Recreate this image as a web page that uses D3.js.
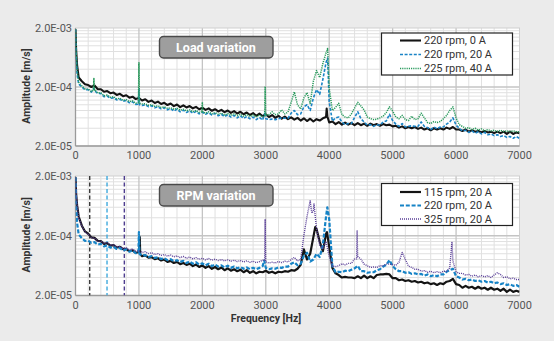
<!DOCTYPE html>
<html>
<head>
<meta charset="utf-8">
<script src="https://cdn.jsdelivr.net/npm/d3@7"></script>
<style>
  html, body { margin: 0; padding: 0; background: #ebebeb; }
  svg { display: block; font-family: Roboto, "Liberation Sans", sans-serif; }
</style>
</head>
<body>
<svg id="chart" width="554" height="341"></svg>
<script>
// Spectrum bins are spaced FREQ_STEP Hz apart, starting at 0 Hz.
// Amplitudes are given in µm/s and converted to m/s for the log axis.
const FREQ_STEP = 50;
const xTicks = [0, 1000, 2000, 3000, 4000, 5000, 6000, 7000];
const yTicks = [2e-5, 2e-4, 2e-3];

// ---- Load variation ----
const loadLabels = ["220 rpm, 0 A", "220 rpm, 20 A", "225 rpm, 40 A"];
const load220_0A = [
  1900, 290, 250, 222, 216, 200, 212, 184, 183, 166,
  171, 157, 161, 147, 153, 140, 145, 132, 137, 125,
  130, 118, 124, 112, 118, 107, 113, 103, 108, 99,
  105, 95, 101, 91, 98, 90, 95, 87, 92, 84,
  89, 82, 87, 79, 84, 77, 82, 75, 80, 73,
  78, 71, 76, 69, 74, 67, 72, 65, 71, 64,
  69, 62, 67, 60, 65, 58, 63, 57, 61, 56,
  60, 54, 59, 53, 58, 52, 57, 54, 59, 62,
  50, 52, 47, 51, 46, 50, 46, 49, 45, 49,
  45, 48, 44, 48, 45, 47, 44, 47, 45, 46,
  43, 44, 41, 43, 40, 42, 40, 42, 39, 41,
  38, 40, 37, 40, 38, 40, 38, 41, 39, 42,
  38, 38, 36, 38, 35, 37, 35, 36, 34, 36,
  34, 35, 33, 35, 33, 35, 32, 35, 32, 34,
  33
];
const load220_0A_detail = [[10, 850], [25, 470], [3960, 86], [3970, 64]];

const load220_20A = [
  1900, 225, 200, 181, 180, 164, 174, 155, 155, 137,
  140, 129, 131, 121, 124, 115, 118, 108, 112, 101,
  101, 97, 100, 93, 96, 89, 92, 85, 89, 82,
  86, 78, 84, 76, 81, 74, 79, 72, 77, 70,
  75, 69, 73, 67, 71, 65, 69, 63, 68, 62,
  66, 60, 65, 59, 63, 58, 62, 56, 61, 55,
  58, 56, 57, 56, 58, 60, 59, 59, 72, 80,
  68, 70, 92, 100, 80, 130, 180, 150, 270, 520,
  110, 53, 60, 62, 51, 46, 48, 48, 61, 76,
  58, 51, 45, 46, 43, 46, 45, 51, 53, 69,
  54, 47, 43, 48, 42, 43, 44, 43, 43, 51,
  43, 41, 38, 42, 39, 42, 42, 47, 51, 60,
  45, 40, 36, 37, 34, 36, 33, 35, 32, 34,
  31, 32, 30, 31, 29, 30, 28, 29, 27, 29,
  27
];
const load220_20A_detail = [[10, 700], [25, 330], [290, 190], [992, 102], [1000, 185], [1008, 100],
  [2990, 75], [3975, 620]];

const load225_40A = [
  1900, 240, 210, 186, 184, 168, 181, 159, 160, 142,
  146, 134, 137, 126, 129, 119, 122, 113, 116, 106,
  108, 103, 104, 98, 100, 94, 96, 90, 92, 87,
  89, 84, 87, 81, 84, 79, 82, 76, 80, 74,
  78, 72, 76, 70, 74, 69, 72, 67, 71, 66,
  70, 65, 69, 64, 68, 63, 67, 62, 67, 63,
  66, 68, 76, 68, 70, 82, 70, 75, 110, 165,
  100, 85, 130, 160, 105, 250, 380, 290, 500, 760,
  190, 80, 90, 106, 68, 62, 60, 70, 88, 110,
  95, 82, 62, 58, 56, 57, 60, 64, 74, 92,
  78, 62, 58, 66, 56, 54, 64, 56, 58, 72,
  60, 50, 48, 52, 50, 52, 58, 66, 80, 92,
  60, 46, 43, 40, 41, 38, 40, 37, 39, 36,
  38, 36, 37, 35, 37, 35, 36, 35, 36, 35,
  35
];
const load225_40A_detail = [[10, 800], [25, 400], [282, 176], [290, 280], [298, 178],
  [992, 108], [1000, 516], [1008, 106], [1992, 76], [2000, 111], [2008, 75],
  [2982, 65], [2990, 204], [2998, 66], [3975, 900]];

// ---- RPM variation ----
const rpmLabels = ["115 rpm, 20 A", "220 rpm, 20 A", "325 rpm, 20 A"];
const rpm115 = [
  1900, 420, 295, 236, 216, 188, 184, 164, 163, 146,
  151, 137, 139, 127, 130, 119, 121, 110, 114, 103,
  108, 91, 94, 86, 88, 81, 84, 77, 80, 73,
  76, 70, 73, 67, 70, 65, 68, 62, 66, 60,
  64, 58, 62, 56, 60, 55, 59, 53, 57, 52,
  55, 51, 54, 49, 53, 48, 51, 47, 50, 49,
  52, 48, 50, 47, 50, 49, 51, 50, 53, 52,
  56, 65, 118, 80, 100, 190, 260, 160, 110, 215,
  130, 58, 47, 44, 40, 41, 40, 40, 39, 42,
  39, 43, 39, 42, 39, 44, 45, 45, 46, 45,
  39, 39, 36, 37, 35, 36, 34, 35, 33, 34,
  32, 33, 31, 32, 30, 32, 31, 34, 35, 38,
  31, 30, 27, 29, 27, 28, 26, 28, 26, 27,
  25, 27, 25, 26, 24, 26, 23, 25, 23, 24,
  23
];
const rpm115_detail = [[10, 1000], [25, 650], [1005, 106], [1013, 190], [1020, 98],
  [3780, 280], [3965, 230]];

const rpm220 = [
  1900, 210, 182, 164, 166, 152, 156, 142, 146, 133,
  138, 126, 131, 120, 125, 113, 119, 108, 113, 102,
  104, 93, 95, 88, 91, 85, 87, 82, 84, 78,
  81, 75, 78, 73, 76, 70, 74, 68, 72, 66,
  69, 64, 68, 62, 66, 61, 64, 59, 63, 58,
  61, 57, 60, 56, 59, 55, 58, 55, 58, 62,
  58, 55, 57, 56, 59, 58, 61, 61, 68, 72,
  64, 68, 92, 104, 74, 80, 100, 88, 140, 420,
  380, 62, 49, 50, 49, 52, 51, 54, 57, 63,
  51, 51, 48, 49, 49, 53, 55, 61, 65, 78,
  62, 55, 51, 51, 48, 49, 46, 47, 45, 46,
  43, 45, 42, 44, 42, 45, 45, 50, 53, 56,
  42, 40, 37, 38, 36, 37, 35, 36, 34, 35,
  33, 34, 32, 33, 31, 32, 30, 31, 29, 30,
  28
];
const rpm220_detail = [[10, 700], [25, 330], [992, 105], [1000, 230], [1008, 100],
  [2975, 77], [3970, 600]];

const rpm325 = [
  1900, 400, 290, 232, 212, 186, 182, 162, 163, 148,
  153, 139, 141, 130, 133, 123, 125, 116, 120, 111,
  112, 105, 108, 101, 104, 97, 100, 94, 97, 91,
  95, 89, 92, 86, 90, 84, 88, 82, 86, 81,
  84, 79, 83, 78, 81, 77, 80, 76, 79, 75,
  78, 74, 77, 73, 76, 72, 75, 71, 74, 78,
  73, 70, 72, 70, 74, 71, 75, 73, 80, 87,
  76, 80, 200, 420, 770, 520, 260, 140, 120, 160,
  90, 62, 61, 63, 68, 65, 69, 69, 82, 90,
  81, 67, 63, 59, 60, 59, 63, 63, 67, 67,
  66, 64, 72, 105, 80, 62, 59, 55, 55, 51,
  52, 49, 51, 48, 50, 48, 51, 51, 58, 75,
  50, 47, 47, 44, 45, 42, 44, 41, 43, 41,
  43, 40, 44, 48, 45, 40, 41, 38, 39, 37,
  37
];
const rpm325_detail = [[10, 1000], [25, 650], [2982, 78], [2990, 380], [2998, 76],
  [3725, 480], [3760, 680], [4432, 82], [4440, 240], [4448, 90], [5935, 155]];

// Shaft-order markers drawn as dashed verticals in the RPM panel (Hz)
const rpmMarkers = [224, 497, 770];

// ---------------------------------------------------------------
function buildSeries(base, detail) {
  const detailF = new Set(detail.map(d => d[0]));
  const pts = base.map((v, i) => [i * FREQ_STEP, v])
    .filter(p => !detailF.has(p[0]))
    .concat(detail)
    .sort((a, b) => a[0] - b[0]);
  return pts.map(([f, v]) => ({ f, a: v * 1e-6 }));
}

function fmtExp(d) {
  const e = Math.floor(Math.log10(d) + 1e-9);
  const m = d / Math.pow(10, e);
  const sign = e < 0 ? "-" : "+";
  return m.toFixed(1) + "E" + sign + String(Math.abs(e)).padStart(2, "0");
}

const svg = d3.select("#chart");
const X0 = 75.5, X1 = 519.5;
const x = d3.scaleLinear().domain([0, 7000]).range([X0, X1]);

const panels = [
  {
    top: 28, bottom: 146, title: "Load variation",
    legendTop: 33, legendRows: [40.5, 54.5, 68.5],
    labels: loadLabels,
    series: [
      { data: buildSeries(load220_0A, load220_0A_detail), color: "#141414", width: 2.1, dash: null },
      { data: buildSeries(load220_20A, load220_20A_detail), color: "#1a84c6", width: 1.6, dash: "3,1.6" },
      { data: buildSeries(load225_40A, load225_40A_detail), color: "#27995b", width: 1.5, dash: "1.2,1" }
    ],
    markers: []
  },
  {
    top: 176, bottom: 295.5, title: "RPM variation",
    legendTop: 183.5, legendRows: [192, 205.5, 219],
    labels: rpmLabels,
    series: [
      { data: buildSeries(rpm115, rpm115_detail), color: "#141414", width: 2.2, dash: null },
      { data: buildSeries(rpm220, rpm220_detail), color: "#1683c6", width: 2.2, dash: "4,1.8" },
      { data: buildSeries(rpm325, rpm325_detail), color: "#5a3f98", width: 1.4, dash: "1,1" }
    ],
    markers: [
      { f: rpmMarkers[0], color: "#3a3a3a" },
      { f: rpmMarkers[1], color: "#3fa9dd" },
      { f: rpmMarkers[2], color: "#4e3d8f" }
    ]
  }
];

panels.forEach((p, pi) => {
  const y = d3.scaleLog().domain([2e-5, 2e-3]).range([p.bottom, p.top]);
  const g = svg.append("g");

  // plot area
  g.append("rect").attr("x", X0).attr("y", p.top)
    .attr("width", X1 - X0).attr("height", p.bottom - p.top).attr("fill", "#ffffff");

  // minor grid
  const minorX = d3.range(200, 7000, 200).filter(f => f % 1000 !== 0);
  g.selectAll(".mx").data(minorX).join("line")
    .attr("x1", d => x(d)).attr("x2", d => x(d))
    .attr("y1", p.top).attr("y2", p.bottom)
    .attr("stroke", "#e0e0e0").attr("stroke-width", 1);
  const minorY = [];
  [2e-5, 2e-4].forEach(b => { for (let k = 2; k <= 9; k++) minorY.push(b * k); });
  g.selectAll(".my").data(minorY.filter(v => Math.abs(v - 2e-4) > 1e-9)).join("line")
    .attr("x1", X0).attr("x2", X1)
    .attr("y1", d => y(d)).attr("y2", d => y(d))
    .attr("stroke", "#e0e0e0").attr("stroke-width", 1);

  // major grid
  g.selectAll(".MX").data(xTicks.slice(1, -1)).join("line")
    .attr("x1", d => x(d)).attr("x2", d => x(d))
    .attr("y1", p.top).attr("y2", p.bottom)
    .attr("stroke", "#c4c4c4").attr("stroke-width", 1.3);
  g.selectAll(".MY").data([2e-4]).join("line")
    .attr("x1", X0).attr("x2", X1)
    .attr("y1", d => y(d)).attr("y2", d => y(d))
    .attr("stroke", "#c4c4c4").attr("stroke-width", 1.3);

  // frame
  g.append("rect").attr("x", X0).attr("y", p.top)
    .attr("width", X1 - X0).attr("height", p.bottom - p.top)
    .attr("fill", "none").attr("stroke", "#cfcfcf").attr("stroke-width", 1);
  g.append("line").attr("x1", X0).attr("x2", X0).attr("y1", p.top).attr("y2", p.bottom)
    .attr("stroke", "#9a9a9a").attr("stroke-width", 1.3);
  g.append("line").attr("x1", X0).attr("x2", X1).attr("y1", p.bottom).attr("y2", p.bottom)
    .attr("stroke", "#9a9a9a").attr("stroke-width", 1.3);

  // clip
  const clipId = "clip" + pi;
  svg.append("clipPath").attr("id", clipId).append("rect")
    .attr("x", X0).attr("y", p.top).attr("width", X1 - X0).attr("height", p.bottom - p.top);

  const plot = g.append("g").attr("clip-path", `url(#${clipId})`);

  // order markers
  plot.selectAll(".mk").data(p.markers).join("line")
    .attr("x1", d => x(d.f)).attr("x2", d => x(d.f))
    .attr("y1", p.top).attr("y2", p.bottom)
    .attr("stroke", d => d.color).attr("stroke-width", 1.4)
    .attr("stroke-dasharray", "4,2.5");

  const line = d3.line().x(d => x(d.f)).y(d => y(d.a));
  p.series.forEach(s => {
    plot.append("path").datum(s.data)
      .attr("d", line)
      .attr("fill", "none")
      .attr("stroke", s.color)
      .attr("stroke-width", s.width)
      .attr("stroke-linejoin", "round")
      .attr("stroke-dasharray", s.dash);
  });

  // axes labels
  g.selectAll(".yt").data(yTicks).join("text")
    .attr("x", 72).attr("y", d => y(d)).attr("dy", "0.36em")
    .attr("text-anchor", "end").attr("font-size", 11).attr("fill", "#555")
    .text(fmtExp);
  g.selectAll(".xt").data(xTicks).join("text")
    .attr("x", d => x(d)).attr("y", p.bottom + 13)
    .attr("text-anchor", "middle").attr("font-size", 11).attr("fill", "#555")
    .text(d => d);

  g.append("text")
    .attr("transform", `translate(30,${(p.top + p.bottom) / 2 - 1}) rotate(-90)`)
    .attr("text-anchor", "middle").attr("font-size", 10.5).attr("font-weight", "bold")
    .attr("fill", "#333").text("Amplitude [m/s]");

  // panel title box
  g.append("rect").attr("x", 159.5).attr("y", p.top + 8.5)
    .attr("width", 113.5).attr("height", 21.5).attr("rx", 4)
    .attr("fill", "#9e9e9e").attr("stroke", "#4a4a4a").attr("stroke-width", 1.4);
  g.append("text").attr("x", 216).attr("y", p.top + 19.5).attr("dy", "0.36em")
    .attr("text-anchor", "middle").attr("font-size", 12.5).attr("font-weight", "bold")
    .attr("fill", "#ffffff").text(p.title);

  // legend
  const lg = g.append("g");
  lg.append("rect").attr("x", 381.5).attr("y", p.legendTop)
    .attr("width", 131).attr("height", 42)
    .attr("fill", "#ffffff").attr("stroke", "#222").attr("stroke-width", 1.2);
  p.series.forEach((s, i) => {
    const ry = p.legendRows[i];
    lg.append("line").attr("x1", 400).attr("x2", 421).attr("y1", ry).attr("y2", ry)
      .attr("stroke", s.color).attr("stroke-width", s.width)
      .attr("stroke-dasharray", s.dash);
    lg.append("text").attr("x", 424).attr("y", ry).attr("dy", "0.36em")
      .attr("font-size", 11).attr("fill", "#333").text(p.labels[i]);
  });
});

svg.append("text").attr("x", 266).attr("y", 322)
  .attr("text-anchor", "middle").attr("font-size", 10.5).attr("font-weight", "bold")
  .attr("fill", "#333").text("Frequency [Hz]");
</script>
</body>
</html>
